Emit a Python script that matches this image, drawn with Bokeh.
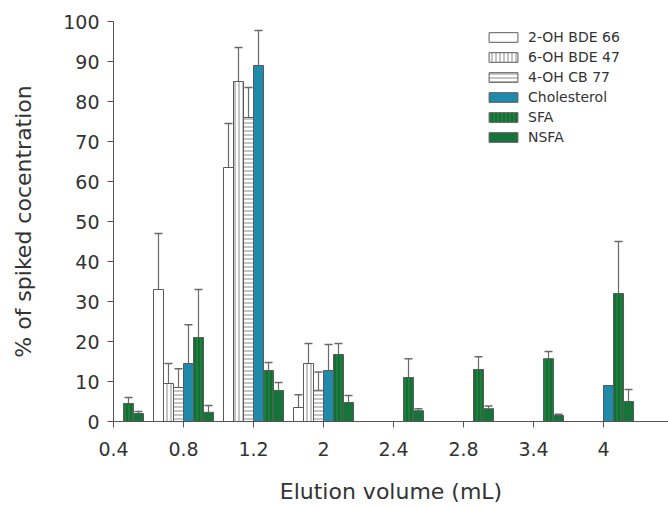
from bokeh.plotting import figure
from bokeh.models import ColumnDataSource, Whisker, TeeHead, FixedTicker, Range1d, Legend, LegendItem
from bokeh.embed import file_html
from bokeh.resources import INLINE

volumes = ["0.4", "0.8", "1.2", "2", "2.4", "2.8", "3.4", "4"]
series_names = ["2-OH BDE 66", "6-OH BDE 47", "4-OH CB 77", "Cholesterol", "SFA", "NSFA"]

oh_bde66 = [0, 33, 63.5, 3.5, 0, 0, 0, 0]
oh_bde66_err = [0, 14, 11, 3.2, 0, 0, 0, 0]
oh_bde47 = [0, 9.5, 85, 14.5, 0, 0, 0, 0]
oh_bde47_err = [0, 5, 8.5, 5, 0, 0, 0, 0]
oh_cb77 = [0, 8.5, 76, 7.8, 0, 0, 0, 0]
oh_cb77_err = [0, 4.7, 7.5, 4.6, 0, 0, 0, 0]
cholesterol = [0, 14.5, 89, 12.75, 0, 0, 0, 9]
cholesterol_err = [0, 9.7, 8.75, 6.5, 0, 0, 0, 0]
sfa = [4.5, 21, 12.75, 16.75, 11, 13, 15.7, 32]
sfa_err = [1.5, 12, 2, 2.75, 4.7, 3.2, 1.8, 13]
nsfa = [2, 2.3, 7.75, 4.75, 2.7, 3.2, 1.5, 5]
nsfa_err = [0.5, 1.7, 2, 1.75, 0.5, 0.7, 0.3, 3]

values = [oh_bde66, oh_bde47, oh_cb77, cholesterol, sfa, nsfa]
errors = [oh_bde66_err, oh_bde47_err, oh_cb77_err, cholesterol_err, sfa_err, nsfa_err]

styles = [
    dict(fill_color="white", hatch_pattern=None, hatch_color=None),
    dict(fill_color="white", hatch_pattern="vertical_line", hatch_color="#8a8a8a"),
    dict(fill_color="white", hatch_pattern="horizontal_line", hatch_color="#8a8a8a"),
    dict(fill_color="#1f8aaa", hatch_pattern=None, hatch_color=None),
    dict(fill_color="#1d7f3e", hatch_pattern="vertical_line", hatch_color="#0f5c2a"),
    dict(fill_color="#16733a", hatch_pattern=None, hatch_color=None),
]

FONT = "DejaVu Sans"
W, H = 668, 506
left, top, bottom = 113, 21, 85
px_per_cat = 70.0
x_end = (W - left) / px_per_cat
bw = 10.0 / px_per_cat

p = figure(width=W, height=H, output_backend="svg", toolbar_location=None,
           x_range=Range1d(0, x_end), y_range=Range1d(0, 100),
           min_border_left=left, min_border_right=0, min_border_top=top,
           min_border_bottom=bottom)
p.outline_line_color = None
p.xgrid.visible = False
p.ygrid.visible = False
p.background_fill_color = "white"
p.border_fill_color = "white"

items = []
for i, (vals, errs, st, name) in enumerate(zip(values, errors, styles, series_names)):
    xs = [k + (i - 2.5) * bw for k in range(len(volumes))]
    src = ColumnDataSource(dict(x=xs, top=vals))
    kw = dict(fill_color=st["fill_color"], line_color="#5a5a5a", line_width=1)
    if st["hatch_pattern"]:
        kw.update(hatch_pattern=st["hatch_pattern"], hatch_color=st["hatch_color"],
                  hatch_scale=4, hatch_weight=1)
    r = p.vbar(x="x", top="top", width=bw, bottom=0, source=src, **kw)
    items.append(LegendItem(label=name, renderers=[r]))
    ex = [x for x, v, e in zip(xs, vals, errs) if e > 0]
    lo = [v for v, e in zip(vals, errs) if e > 0]
    hi = [v + e for v, e in zip(vals, errs) if e > 0]
    esrc = ColumnDataSource(dict(base=ex, lower=lo, upper=hi))
    wk = Whisker(base="base", lower="lower", upper="upper", source=esrc,
                 line_color="#6a6a6a", line_width=1.2,
                 upper_head=TeeHead(size=8, line_color="#6a6a6a", line_width=1.5),
                 lower_head=None)
    p.add_layout(wk)

legend = Legend(items=items, location=(372, 276), border_line_color=None,
                background_fill_alpha=0, padding=0, margin=0, spacing=4,
                glyph_width=36, glyph_height=12, label_height=12,
                label_standoff=7, label_text_font=FONT,
                label_text_font_size="14px", label_text_color="#333333")
p.add_layout(legend)

p.xaxis.ticker = FixedTicker(ticks=list(range(len(volumes))))
p.xaxis.major_label_overrides = {k: v for k, v in enumerate(volumes)}
p.yaxis.ticker = FixedTicker(ticks=list(range(0, 101, 10)))
for ax in (p.xaxis[0], p.yaxis[0]):
    ax.minor_tick_line_color = None
    ax.axis_line_color = "#555555"
    ax.major_tick_line_color = "#555555"
    ax.major_tick_in = 0
    ax.major_tick_out = 6
    ax.major_label_text_font = FONT
    ax.major_label_text_font_size = "19px"
    ax.major_label_text_color = "#333333"
    ax.axis_label_text_font = FONT
    ax.axis_label_text_font_size = "22px"
    ax.axis_label_text_font_style = "normal"
    ax.axis_label_text_color = "#333333"
p.xaxis.axis_label = "Elution volume (mL)"
p.yaxis.axis_label = "% of spiked cocentration"
p.xaxis.major_label_standoff = 14
p.xaxis.axis_label_standoff = 20
p.yaxis.major_label_standoff = 8
p.yaxis.axis_label_standoff = 24

open("out.html", "w").write(file_html(p, INLINE))
